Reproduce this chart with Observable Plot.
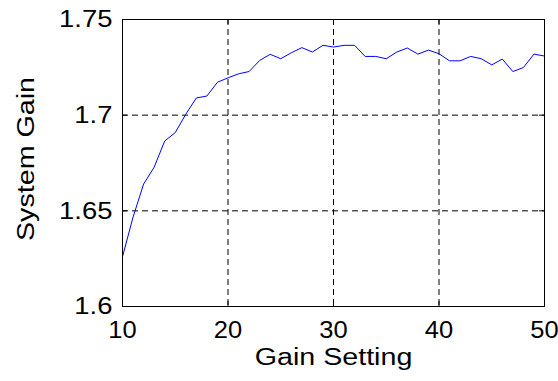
<!DOCTYPE html>
<html>
<head>
<meta charset="utf-8">
<script src="https://cdn.jsdelivr.net/npm/d3@7"></script>
<script src="https://cdn.jsdelivr.net/npm/@observablehq/plot@0.6"></script>
<style>
  html, body { margin: 0; padding: 0; background: #fff; }
  #chart svg { display: block; }
</style>
</head>
<body>
<div id="chart"></div>
<script>
const gainSetting = [10, 11, 12, 13, 14, 15, 16, 17, 18, 19, 20, 21, 22, 23, 24, 25, 26, 27, 28, 29, 30,
  31, 32, 33, 34, 35, 36, 37, 38, 39, 40, 41, 42, 43, 44, 45, 46, 47, 48, 49, 50];
const systemGain = [1.626, 1.6467, 1.664, 1.6728, 1.6865, 1.6909, 1.7005, 1.709, 1.710, 1.7172, 1.7195,
  1.7216, 1.7228, 1.7286, 1.7318, 1.7295, 1.7326, 1.7353, 1.733, 1.7365, 1.7356,
  1.7365, 1.7365, 1.7307, 1.7307, 1.7295, 1.733, 1.7351, 1.7319, 1.734, 1.7321,
  1.7284, 1.7284, 1.7307, 1.7295, 1.7263, 1.7293, 1.7228, 1.7249, 1.7319, 1.7309];
const xTicks = [10, 20, 30, 40, 50];
const yTicks = [1.6, 1.65, 1.7, 1.75];
const yTickLabels = ["1.6", "1.65", "1.7", "1.75"];
const xLabel = "Gain Setting";
const yLabel = "System Gain";

const data = gainSetting.map((x, i) => ({x, y: systemGain[i]}));
const FS = 24.5;
const W = 558, H = 381, ML = 122, MR = 14, MT = 19, MB = 75;
const TICK = 5;

const chart = Plot.plot({
  width: W,
  height: H,
  marginLeft: ML,
  marginRight: MR,
  marginTop: MT,
  marginBottom: MB,
  style: {fontFamily: "'Liberation Sans', Arial, sans-serif", fontSize: FS + "px", color: "#000", background: "#fff"},
  x: {domain: [10, 50]},
  y: {domain: [1.6, 1.75]},
  marks: [
    Plot.ruleX(xTicks.slice(1, -1), {stroke: "#000", strokeWidth: 1, strokeDasharray: "6,4"}),
    Plot.ruleY(yTicks.slice(1, -1), {stroke: "#000", strokeWidth: 1, strokeDasharray: "6,4"}),
    Plot.tickX(xTicks, {x: (d) => d, stroke: "#000", insetTop: (H - MT - MB) - TICK}),
    Plot.tickX(xTicks, {x: (d) => d, stroke: "#000", insetBottom: (H - MT - MB) - TICK}),
    Plot.tickY(yTicks, {y: (d) => d, stroke: "#000", insetRight: (W - ML - MR) - TICK}),
    Plot.tickY(yTicks, {y: (d) => d, stroke: "#000", insetLeft: (W - ML - MR) - TICK}),
    Plot.line(data, {x: "x", y: "y", stroke: "#0000ff", strokeWidth: 1}),
    Plot.frame({stroke: "#000", strokeWidth: 1}),
    Plot.axisX(xTicks, {anchor: "bottom", tickSize: 0, tickPadding: 14, label: null, fontSize: FS, className: "tkx"}),
    Plot.axisY(yTicks, {anchor: "left", tickSize: 0, tickPadding: 10, label: null, fontSize: FS, className: "tky",
      tickFormat: (d) => yTickLabels[yTicks.indexOf(d)]}),
    Plot.text([xLabel], {frameAnchor: "bottom", dy: 58, text: (d) => d, fontSize: FS, fill: "#000", className: "lb"}),
    Plot.text([yLabel], {frameAnchor: "left", dx: -96, dy: -4, rotate: -90, textAnchor: "middle", text: (d) => d, fontSize: FS, fill: "#000", className: "lb"})
  ]
});

// Widen glyphs horizontally (reference text is wider than Liberation Sans) about each text's anchor
function widen(sel, s) {
  chart.querySelectorAll(sel).forEach((t) => {
    let tr = t.getAttribute("transform");
    if (!tr) {
      const x = +(t.getAttribute("x") || 0), y = +(t.getAttribute("y") || 0);
      t.removeAttribute("x"); t.removeAttribute("y");
      tr = `translate(${x},${y})`;
    }
    t.setAttribute("transform", tr + ` scale(${s},1)`);
  });
}
widen(".tkx text", 1.04);
widen(".tky text", 1.12);
widen(".lb text", 1.17);

document.getElementById("chart").appendChild(chart);
</script>
</body>
</html>
